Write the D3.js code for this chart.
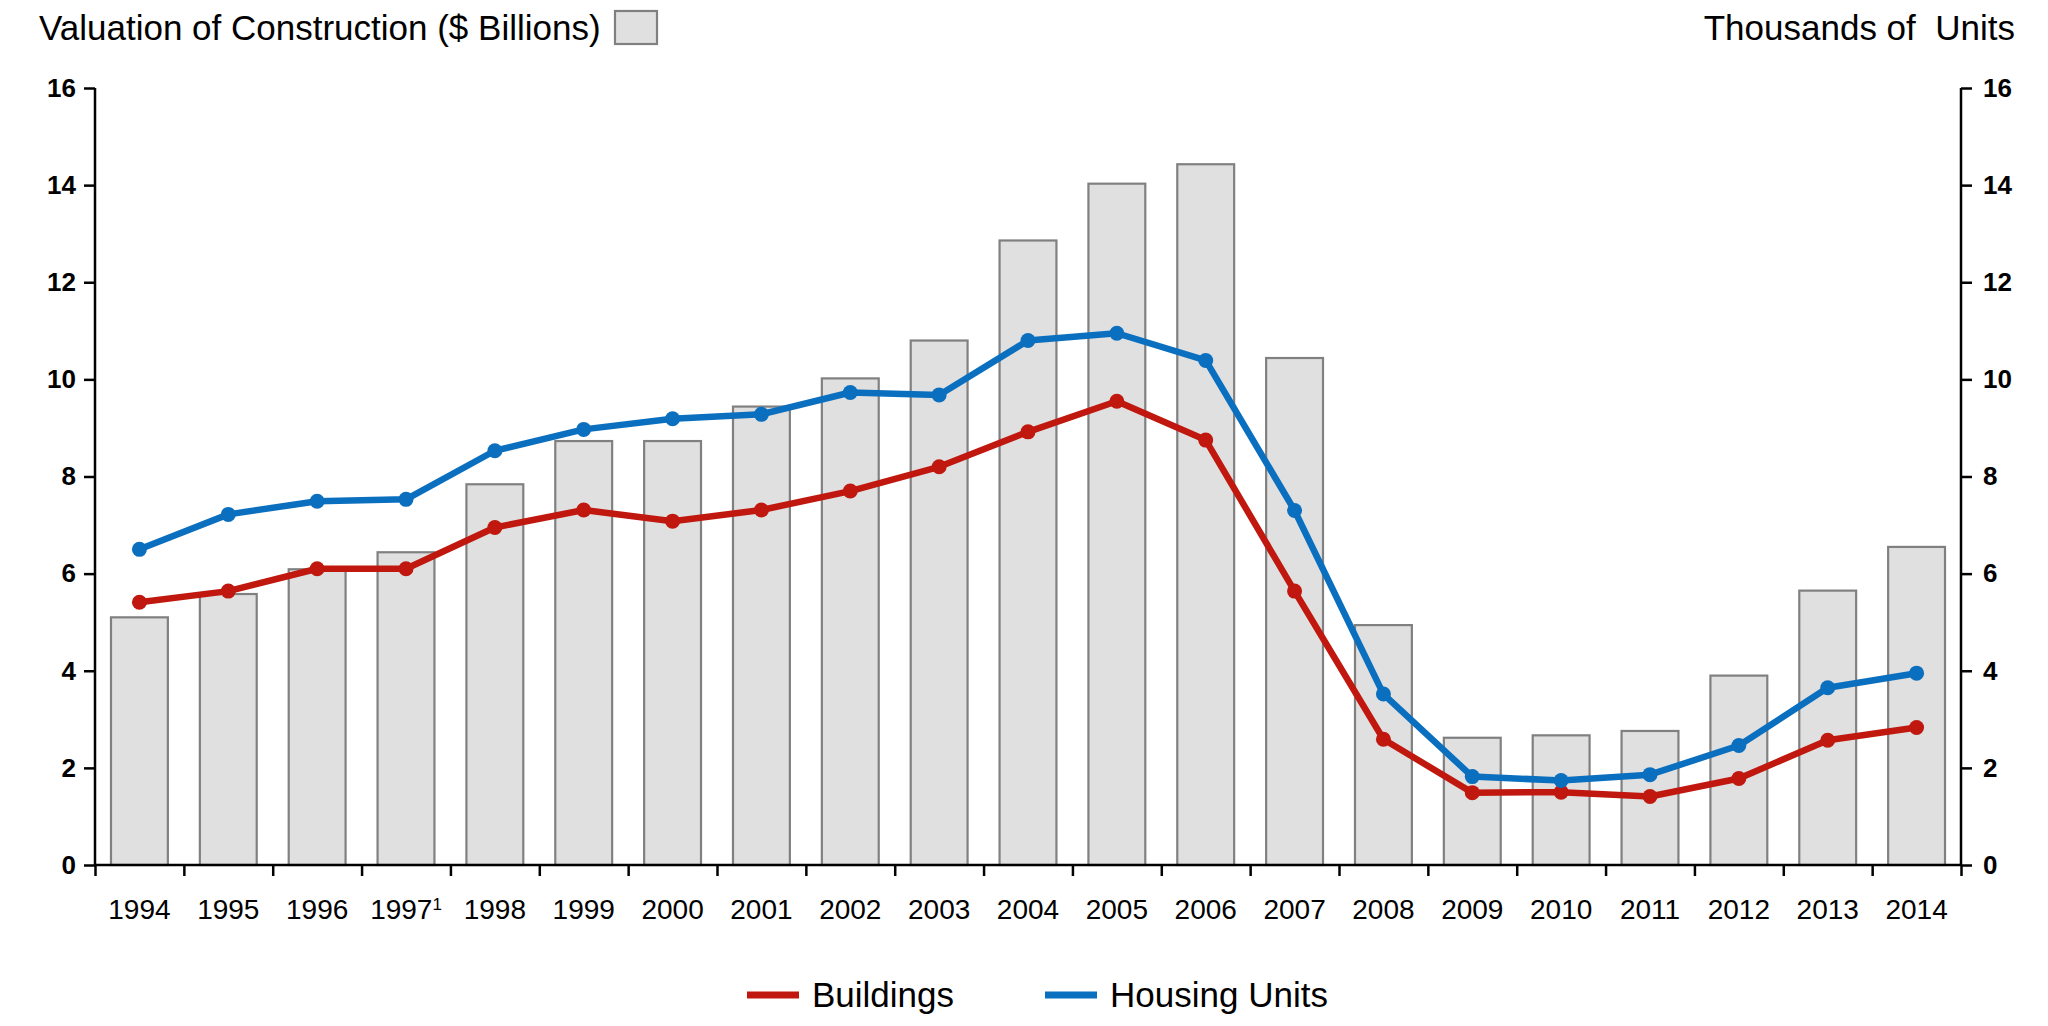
<!DOCTYPE html>
<html>
<head>
<meta charset="utf-8">
<script src="https://cdn.jsdelivr.net/npm/d3@7"></script>
<style>
  body { margin: 0; background: #fff; }
  svg { display: block; font-family: "Liberation Sans", Arial, sans-serif; }
</style>
</head>
<body>
<svg id="chart"></svg>
<script>
// values
const years = ["1994","1995","1996","1997","1998","1999","2000","2001","2002","2003","2004",
               "2005","2006","2007","2008","2009","2010","2011","2012","2013","2014"];
const valuation = [5.10, 5.58, 6.09, 6.44, 7.84, 8.73, 8.73, 9.44, 10.02, 10.80, 12.86,
                   14.03, 14.43, 10.44, 4.94, 2.62, 2.67, 2.76, 3.90, 5.65, 6.55];
const buildings = [5.41, 5.64, 6.10, 6.10, 6.95, 7.31, 7.08, 7.31, 7.70, 8.20, 8.92,
                   9.55, 8.75, 5.64, 2.59, 1.49, 1.50, 1.41, 1.78, 2.57, 2.83];
const housing = [6.50, 7.22, 7.49, 7.53, 8.53, 8.97, 9.19, 9.28, 9.73, 9.68, 10.80,
                 10.95, 10.39, 7.30, 3.52, 1.82, 1.74, 1.86, 2.46, 3.65, 3.95];
const yTicks = [0, 2, 4, 6, 8, 10, 12, 14, 16];
const footnoted = "1997";

const width = 2048, height = 1026;
const plotLeft = 95, plotRight = 1961, plotTop = 88, plotBottom = 865;
const red = "#c0180e", blue = "#0b6fbf";

const svg = d3.select("#chart").attr("width", width).attr("height", height);
svg.append("rect").attr("width", width).attr("height", height).attr("fill", "#fff");

const x = d3.scaleBand().domain(years).range([plotLeft, plotRight])
    .paddingInner(0.36).paddingOuter(0.18);
const xEdge = d3.scaleLinear().domain([0, years.length]).range([plotLeft, plotRight]);
const yVal = d3.scaleLinear().domain([0, 16]).range([plotBottom, plotTop]);
const yUnits = d3.scaleLinear().domain([0, 16]).range([plotBottom, plotTop]);

// bars
svg.append("g").selectAll("rect")
    .data(valuation)
    .enter()
    .append("rect")
    .attr("x", (d, i) => x(years[i]))
    .attr("y", d => yVal(d))
    .attr("width", x.bandwidth())
    .attr("height", d => plotBottom - yVal(d))
    .attr("fill", "#e0e0e0")
    .attr("stroke", "#808080")
    .attr("stroke-width", 2.2);

// y axes
const leftAxis = svg.append("g")
    .attr("transform", `translate(${plotLeft},0)`)
    .call(d3.axisLeft(yVal).tickValues(yTicks).tickSize(11).tickPadding(8));
const rightAxis = svg.append("g")
    .attr("transform", `translate(${plotRight},0)`)
    .call(d3.axisRight(yUnits).tickValues(yTicks).tickSize(11).tickPadding(11));
[leftAxis, rightAxis].forEach(g => {
    g.select(".domain").attr("stroke", "#000").attr("stroke-width", 2.5)
        .attr("d", `M0,${plotTop}V${plotBottom}`);
    g.selectAll(".tick line").attr("stroke", "#000").attr("stroke-width", 2.5);
    g.selectAll(".tick text").attr("fill", "#000").style("font-size", "26px").style("font-weight", "bold");
});

// x axis: ticks sit on the band edges
const xTickAxis = svg.append("g")
    .attr("transform", `translate(0,${plotBottom})`)
    .call(d3.axisBottom(xEdge).tickValues(d3.range(years.length + 1)).tickSize(11).tickFormat(""));
xTickAxis.select(".domain").attr("stroke", "#000").attr("stroke-width", 2.5)
    .attr("d", `M${plotLeft},0H${plotRight}`);
xTickAxis.selectAll(".tick line").attr("stroke", "#000").attr("stroke-width", 2.5);

// x labels
const xLabelAxis = svg.append("g")
    .attr("transform", `translate(0,${plotBottom})`)
    .call(d3.axisBottom(x).tickSize(0).tickPadding(34));
xLabelAxis.select(".domain").remove();
xLabelAxis.selectAll(".tick text").attr("fill", "#000").style("font-size", "28px");
xLabelAxis.selectAll(".tick text")
    .filter(d => d === footnoted)
    .append("tspan")
    .attr("dy", "-0.55em")
    .style("font-size", "17px")
    .text("1");

// lines
const lineFor = data => d3.line()
    .x((d, i) => x(years[i]) + x.bandwidth() / 2)
    .y(d => yUnits(d))(data);

[[buildings, red], [housing, blue]].forEach(([data, color]) => {
    svg.append("path")
        .attr("d", lineFor(data))
        .attr("fill", "none")
        .attr("stroke", color)
        .attr("stroke-width", 6.5)
        .attr("stroke-linejoin", "round");
    svg.append("g").selectAll("circle")
        .data(data)
        .enter()
        .append("circle")
        .attr("cx", (d, i) => x(years[i]) + x.bandwidth() / 2)
        .attr("cy", d => yUnits(d))
        .attr("r", 7.5)
        .attr("fill", color);
});

// titles
svg.append("text")
    .attr("x", 39).attr("y", 40)
    .style("font-size", "35px")
    .text("Valuation of Construction ($ Billions)");
svg.append("rect")
    .attr("x", 615).attr("y", 11).attr("width", 42).attr("height", 33)
    .attr("fill", "#e0e0e0").attr("stroke", "#808080").attr("stroke-width", 2.2);
svg.append("text")
    .attr("x", 2015).attr("y", 40)
    .attr("text-anchor", "end")
    .style("white-space", "pre")
    .style("font-size", "35px")
    .text("Thousands of  Units");

// legend
const legend = [["Buildings", red, 747], ["Housing Units", blue, 1045]];
legend.forEach(([name, color, lx]) => {
    svg.append("line")
        .attr("x1", lx).attr("x2", lx + 52)
        .attr("y1", 995).attr("y2", 995)
        .attr("stroke", color).attr("stroke-width", 7);
    svg.append("text")
        .attr("x", lx + 65).attr("y", 1007)
        .style("font-size", "35px")
        .text(name);
});
</script>
</body>
</html>
